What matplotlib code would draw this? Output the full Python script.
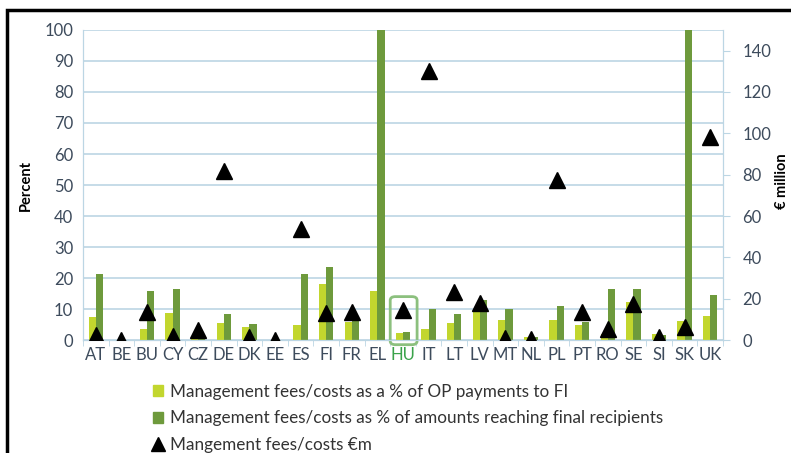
"""
Management fees/costs of financial instruments by member state.
Bars: fees as % (left axis), triangles: fees in EUR million (right axis).
"""

import numpy as np
import matplotlib.pyplot as plt
from matplotlib.patches import Patch, FancyBboxPatch, Rectangle
from matplotlib.lines import Line2D

plt.rcParams['font.family'] = ['Lato', 'DejaVu Sans']

countries = ['AT', 'BE', 'BU', 'CY', 'CZ', 'DE', 'DK', 'EE', 'ES', 'FI', 'FR', 'EL', 'HU',
             'IT', 'LT', 'LV', 'MT', 'NL', 'PL', 'PT', 'RO', 'SE', 'SI', 'SK', 'UK']

# % of OP payments to FI
pct_op = [7.3, 0, 3.5, 8.6, 1.0, 5.6, 4.1, 0, 4.7, 18.1, 5.9, 15.9, 2.3,
          3.5, 5.4, 8.9, 6.3, 1.0, 6.5, 4.9, 1.9, 12.4, 1.8, 6.1, 7.8]
# % of amounts reaching final recipients (EL, SK run off the top)
pct_final = [21.3, 0, 15.8, 16.6, 1.0, 8.4, 5.2, 0, 21.4, 23.7, 6.2, 110, 2.6,
             10.0, 8.5, 12.9, 10.0, 1.1, 10.9, 5.7, 16.3, 16.3, 1.5, 110, 14.6]
# management fees/costs, EUR million (no marker for EL)
fees_m = [2.4, 0, 13.7, 2.0, 4.7, 82, 1.5, 0, 53.7, 13.2, 13.7, np.nan, 14.4,
          130, 23.4, 18, 0.8, 0.5, 77.4, 13.4, 5.3, 17.4, 1.6, 6.5, 98.2]

light = '#c2d62e'
dark = '#6e9a3c'
grid_col = '#bcd6e4'
tick_col = '#3d4b5c'
fs = 12

fig = plt.figure(figsize=(7.91, 4.53), dpi=100)
ax = fig.add_axes([0.105, 0.2494, 0.809, 0.6844])
ax2 = ax.twinx()

x = np.arange(len(countries))
w = 0.28
ax.bar(x - w / 2, pct_op, w, color=light, zorder=2)
ax.bar(x + w / 2, pct_final, w, color=dark, zorder=2)

ax.set_xlim(-0.5, len(countries) - 0.5)
ax.set_ylim(0, 100)
ax.set_yticks(range(0, 101, 10))
ax.yaxis.grid(True, color=grid_col, linewidth=1.2, zorder=0)
ax.set_axisbelow(True)

ax.set_xticks(x)
ax.set_xticklabels(countries, fontsize=fs, color=tick_col)
ax.set_xticks(np.arange(-0.5, len(countries)), minor=True)
ax.tick_params(axis='x', which='major', length=0, pad=5)
ax.tick_params(axis='x', which='minor', length=4, color=grid_col)
ax.tick_params(axis='y', length=0, labelsize=fs, labelcolor=tick_col, pad=7)
ax.get_xticklabels()[countries.index('HU')].set_color('#3aa34a')

ax2.plot(x, fees_m, linestyle='none', marker='^', markersize=11,
         color='black', zorder=4)
ax2.set_ylim(0, 150)
ax2.set_yticks(range(0, 141, 20))
ax2.tick_params(axis='y', length=5, color=grid_col, labelsize=fs,
                labelcolor=tick_col, pad=9)

for a in (ax, ax2):
    a.spines['top'].set_visible(False)
    a.spines['left'].set_color(grid_col)
    a.spines['right'].set_color(grid_col)
    a.spines['bottom'].set_color(grid_col)

ax.set_ylabel('Percent', fontsize=10.5, fontweight='bold', labelpad=8)
fig.text(0.988, 0.60, '€ million', rotation=90, fontsize=10.5,
         fontweight='bold', ha='center', va='center')

# highlight box around HU
hu = countries.index('HU')
box = FancyBboxPatch((hu - 0.5, -1.5), 1.05, 15.5,
                     boxstyle='round,pad=0,rounding_size=0.2',
                     transform=ax.transData, fill=False, edgecolor='#8cc07e',
                     linewidth=2, clip_on=False, zorder=3,
                     mutation_aspect=6)
ax.add_patch(box)

handles = [Patch(color=light), Patch(color=dark),
           Line2D([], [], linestyle='none', marker='^', color='black', markersize=10)]
labels = ['Management fees/costs as a % of OP payments to FI',
          'Management fees/costs as % of amounts reaching final recipients',
          'Mangement fees/costs €m']
fig.legend(handles, labels, loc='upper left', bbox_to_anchor=(0.18, 0.176),
           frameon=False, fontsize=12.3, labelspacing=0.62, handlelength=0.6,
           handleheight=0.6, handletextpad=0.4, labelcolor='#333333',
           borderaxespad=0.2)

# outer frame of the original figure
fig.patches.append(Rectangle((0.009, -0.1), 1.2, 1.078, transform=fig.transFigure,
                             fill=False, edgecolor='black', linewidth=2.5))

plt.savefig('out.png', dpi=100)
plt.close()
